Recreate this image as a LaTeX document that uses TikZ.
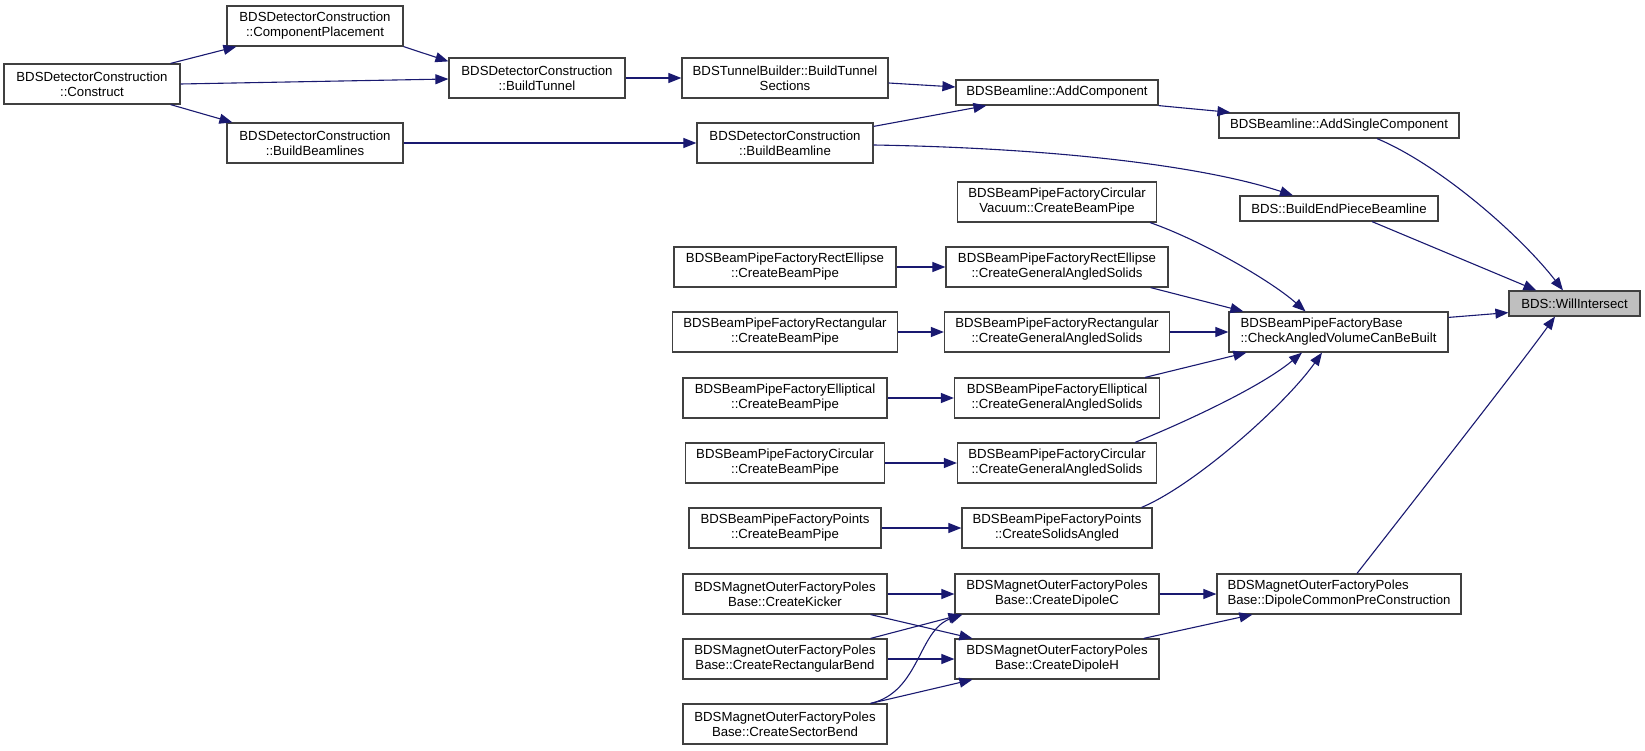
\documentclass[tikz,border=0pt]{standalone}
\usepackage{fontspec}
\setmainfont{Liberation Sans}
\usetikzlibrary{arrows.meta,calc}
\definecolor{edgeblue}{RGB}{25,25,112}
\definecolor{boxline}{RGB}{64,64,64}
\definecolor{hilite}{RGB}{191,191,191}
\begin{document}
\begin{tikzpicture}[x=1pt,y=-1pt,
  box/.style={draw=boxline,line width=1.2pt,fill=white,inner sep=0pt,align=center,
    font=\fontsize{13.2}{15}\selectfont,minimum height=40pt},
  onebox/.style={box,minimum height=25pt},
  lbox/.style={box,align=left},
  call/.style={draw=edgeblue,line width=1.1pt,-{Triangle[length=13pt,width=10pt]},fill=none}]
\useasboundingbox (0,0) rectangle (1645,751);
% column 1
\node[box,minimum width=176pt] (con) at (92,84) {BDSDetectorConstruction\\::Construct};
% column 2
\node[box,minimum width=176pt] (cp) at (315,26) {BDSDetectorConstruction\\::ComponentPlacement};
\node[box,minimum width=176pt] (bbls) at (315,143) {BDSDetectorConstruction\\::BuildBeamlines};
% column 3
\node[box,minimum width=176pt] (bt) at (537,78) {BDSDetectorConstruction\\::BuildTunnel};
% column 4
\node[box,minimum width=206pt] (bts) at (785,78) {BDSTunnelBuilder::BuildTunnel\\Sections};
\node[box,minimum width=176pt] (bbl) at (785,143) {BDSDetectorConstruction\\::BuildBeamline};
\node[box,minimum width=222pt] (rebp) at (785,267) {BDSBeamPipeFactoryRectEllipse\\::CreateBeamPipe};
\node[box,minimum width=225pt] (rbp) at (785,332) {BDSBeamPipeFactoryRectangular\\::CreateBeamPipe};
\node[box,minimum width=204pt] (ebp) at (785,398) {BDSBeamPipeFactoryElliptical\\::CreateBeamPipe};
\node[box,minimum width=199pt] (cbp) at (785,463) {BDSBeamPipeFactoryCircular\\::CreateBeamPipe};
\node[box,minimum width=192pt] (pbp) at (785,528) {BDSBeamPipeFactoryPoints\\::CreateBeamPipe};
\node[box,minimum width=204pt] (kick) at (785,594) {BDSMagnetOuterFactoryPoles\\Base::CreateKicker};
\node[box,minimum width=204pt] (rbend) at (785,659) {BDSMagnetOuterFactoryPoles\\Base::CreateRectangularBend};
\node[box,minimum width=204pt] (sbend) at (785,724) {BDSMagnetOuterFactoryPoles\\Base::CreateSectorBend};
% column 5
\node[onebox,minimum width=202pt] (ac) at (1057,92.5) {BDSBeamline::AddComponent};
\node[box,minimum width=199pt] (cv) at (1057,202) {BDSBeamPipeFactoryCircular\\Vacuum::CreateBeamPipe};
\node[box,minimum width=222pt] (recg) at (1057,267) {BDSBeamPipeFactoryRectEllipse\\::CreateGeneralAngledSolids};
\node[box,minimum width=225pt] (rcg) at (1057,332) {BDSBeamPipeFactoryRectangular\\::CreateGeneralAngledSolids};
\node[box,minimum width=205pt] (ecg) at (1057,398) {BDSBeamPipeFactoryElliptical\\::CreateGeneralAngledSolids};
\node[box,minimum width=199pt] (ccg) at (1057,463) {BDSBeamPipeFactoryCircular\\::CreateGeneralAngledSolids};
\node[box,minimum width=190pt] (psa) at (1057,528) {BDSBeamPipeFactoryPoints\\::CreateSolidsAngled};
\node[box,minimum width=204pt] (dc) at (1057,594) {BDSMagnetOuterFactoryPoles\\Base::CreateDipoleC};
\node[box,minimum width=204pt] (dh) at (1057,659) {BDSMagnetOuterFactoryPoles\\Base::CreateDipoleH};
% column 6
\node[onebox,minimum width=240pt] (asc) at (1339,125.5) {BDSBeamline::AddSingleComponent};
\node[onebox,minimum width=198pt] (bep) at (1339,208.5) {BDS::BuildEndPieceBeamline};
\node[lbox,minimum width=219pt] (cav) at (1338.5,332) {BDSBeamPipeFactoryBase\\::CheckAngledVolumeCanBeBuilt};
\node[lbox,minimum width=244pt] (dcp) at (1339,594) {BDSMagnetOuterFactoryPoles\\Base::DipoleCommonPreConstruction};
% column 7
\node[onebox,minimum width=131pt,fill=hilite] (wi) at (1574.5,303.5) {BDS::WillIntersect};
% edges
\draw[call] ($(con.north east)+(-10,0)$) -- ($(cp.south west)+(10,0)$);
\draw[call] (con.east) -- ($(bt.west)+(0,1)$);
\draw[call] ($(con.south east)+(-10,0)$) -- ($(bbls.north west)+(6,0)$);
\draw[call] (cp.south east) -- ($(bt.north west)+(0,4)$);
\draw[call] (bt.east) -- (bts.west);
\draw[call] (bbls.east) -- (bbl.west);
\draw[call] ($(bts.east)+(0,5)$) -- ($(ac.west)+(0,-5.5)$);
\draw[call] ($(bbl.north east)+(0,4)$) -- ($(ac.south west)+(31,0)$);
\draw[call] (ac.south east) -- ($(asc.north west)+(12,0)$);
\draw[call] ($(bbl.east)+(0,2)$) .. controls (1050,148) and (1200,165) .. ($(bep.north)+(-46,0)$);
\draw[call] ($(asc.south)+(38,0)$) .. controls (1440,165) and (1520,235) .. ($(wi.north)+(-11.5,0)$);
\draw[call] ($(bep.south)+(33,0)$) -- ($(wi.north west)+(28,0)$);
\draw[call] ($(cav.north east)+(0,6)$) -- ($(wi.south west)+(0,-4)$);
\draw[call] ($(dcp.north)+(18,0)$) .. controls (1430,480) and (1520,365) .. ($(wi.south)+(-19.5,0)$);
\draw[call] ($(cv.south east)+(-7,0)$) .. controls (1200,240) and (1270,280) .. ($(cav.north)+(-33,0)$);
\draw[call] ($(recg.south east)+(-18,0)$) -- ($(cav.north west)+(15,0)$);
\draw[call] (rcg.east) -- (cav.west);
\draw[call] ($(ecg.north east)+(-15,0)$) -- ($(cav.south west)+(18,0)$);
\draw[call] ($(ccg.north east)+(-22,0)$) .. controls (1190,420) and (1262,386) .. ($(cav.south)+(-36.5,0)$);
\draw[call] ($(psa.north east)+(-11,0)$) .. controls (1195,485) and (1285,405) .. ($(cav.south)+(-16.5,0)$);
\draw[call] (rebp.east) -- (recg.west);
\draw[call] (rbp.east) -- (rcg.west);
\draw[call] (ebp.east) -- (ecg.west);
\draw[call] (cbp.east) -- (ccg.west);
\draw[call] (pbp.east) -- (psa.west);
\draw[call] (kick.east) -- (dc.west);
\draw[call] ($(kick.south east)+(-17,0)$) -- ($(dh.north west)+(18,0)$);
\draw[call] ($(rbend.north east)+(-17,0)$) -- ($(dc.south west)+(7,0)$);
\draw[call] (rbend.east) -- (dh.west);
\draw[call] ($(sbend.north east)+(-17,0)$) .. controls (920,692) and (918,630) .. ($(dc.south west)+(8,0)$);
\draw[call] ($(sbend.north east)+(-17,0)$) -- ($(dh.south west)+(18,0)$);
\draw[call] (dc.east) -- (dcp.west);
\draw[call] ($(dh.north east)+(-16,0)$) -- ($(dcp.south west)+(36,0)$);
\end{tikzpicture}
\end{document}
